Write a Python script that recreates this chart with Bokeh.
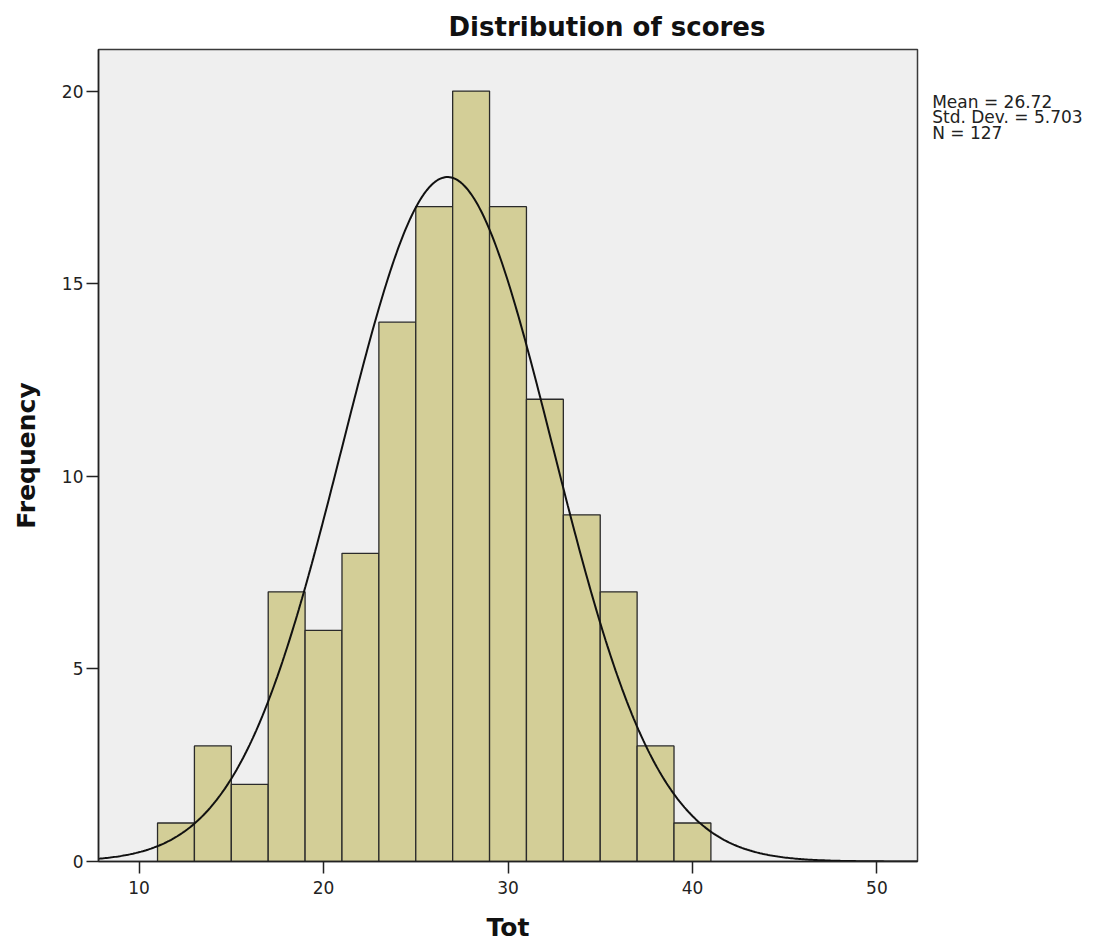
import numpy as np
from bokeh.plotting import figure
from bokeh.models import Range1d, FixedTicker
from bokeh.layouts import row
from bokeh.core.properties import value
from bokeh.embed import file_html
from bokeh.resources import INLINE

# ---- data ----
bin_left = [11, 13, 15, 17, 19, 21, 23, 25, 27, 29, 31, 33, 35, 37, 39]
bin_width = 2
counts = [1, 3, 2, 7, 6, 8, 14, 17, 20, 17, 12, 9, 7, 3, 1]
mean_val = 26.72
std_val = 5.703
n_val = 127
x_ticks = [10, 20, 30, 40, 50]
y_ticks = [0, 5, 10, 15, 20]
title_text = "Distribution of scores"
x_label = "Tot"
y_label = "Frequency"
stats_lines = ["Mean = 26.72", "Std. Dev. = 5.703", "N = 127"]

# ---- layout ----
TOTAL_W, H = 1100, 947
BL, BT = 98, 49
FW, FH = 819, 812
BR = 5
W = BL + FW + BR
BB = H - BT - FH
X0, X1 = 7.8, 52.2
Y0, Y1 = 0.0, 21.08

FONT = "DejaVu Sans"

p = figure(width=W, height=H, output_backend="svg", toolbar_location=None,
           title=title_text,
           x_range=Range1d(X0, X1), y_range=Range1d(Y0, Y1),
           min_border_left=BL, min_border_right=BR, min_border_top=BT,
           min_border_bottom=BB, background_fill_color="#efefef",
           border_fill_color="white")
p.title.text_font = FONT
p.title.text_font_size = "26px"
p.title.text_font_style = "bold"
p.title.text_color = "#111111"
p.title.align = "left"
p.title.offset = 350
p.title.standoff = 16
p.outline_line_color = "#3a3a3a"
p.outline_line_width = 1.5
p.xgrid.visible = False
p.ygrid.visible = False

for ax, ticks in ((p.xaxis, x_ticks), (p.yaxis, y_ticks)):
    ax.ticker = FixedTicker(ticks=ticks)
    ax.minor_tick_line_color = None
    ax.major_tick_out = 12
    ax.major_tick_in = 0
    ax.major_tick_line_color = "#222222"
    ax.major_tick_line_width = 1.5
    ax.axis_line_color = "#222222"
    ax.axis_line_width = 1.5
    ax.major_label_text_font = FONT
    ax.major_label_text_font_size = "17px"
    ax.major_label_text_color = "#222222"
    ax.axis_label_text_font = FONT
    ax.axis_label_text_font_size = "25px"
    ax.axis_label_text_font_style = "bold"
    ax.axis_label_text_color = "#111111"
p.xaxis.major_label_standoff = 7
p.yaxis.major_label_standoff = 3
p.xaxis.axis_label = x_label
p.yaxis.axis_label = y_label
p.xaxis.axis_label_standoff = 16
p.yaxis.axis_label_standoff = 18

bin_right = [b + bin_width for b in bin_left]
p.quad(left=bin_left, right=bin_right, bottom=0, top=counts,
       fill_color="#d3ce97", line_color="#2a2a2a", line_width=1.3)

xs = np.linspace(X0, X1, 500)
ys = n_val * bin_width * np.exp(-(xs - mean_val) ** 2 / (2 * std_val ** 2)) / (std_val * np.sqrt(2 * np.pi))
p.line(xs, ys, line_color="#111111", line_width=2)

# side panel holding the statistics text; its frame lines up with the main frame,
# so its y range is expressed in page pixels of that frame
SW = TOTAL_W - W
s = figure(width=SW, height=H, output_backend="svg", toolbar_location=None,
           title=None,
           x_range=Range1d(W, TOTAL_W), y_range=Range1d(BT + FH, BT),
           min_border=0, min_border_left=0, min_border_right=0,
           min_border_top=0, min_border_bottom=0,
           x_axis_location=None, y_axis_location=None,
           border_fill_color="white", background_fill_color="white")
s.outline_line_color = None
s.xgrid.visible = False
s.ygrid.visible = False
s.text(x=[931.7] * len(stats_lines), y=[101.5 + 15.3 * i for i in range(len(stats_lines))],
       text=stats_lines, text_font=value(FONT), text_font_size="17px",
       text_align="left", text_baseline="alphabetic", text_color="#222222")

layout = row(p, s)
open("out.html", "w").write(file_html(layout, INLINE))
